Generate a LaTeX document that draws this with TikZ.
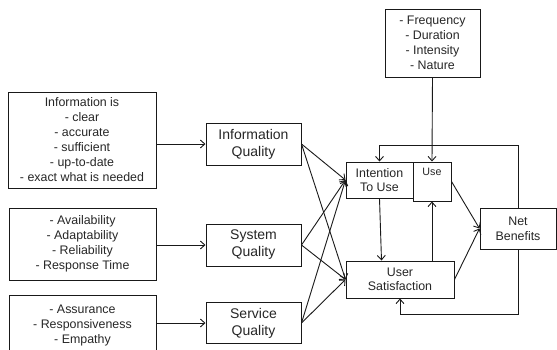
\documentclass[tikz,border=0pt]{standalone}
\usepackage{fontspec}
\setmainfont{Liberation Sans}
\usetikzlibrary{arrows.meta}
\begin{document}
\begin{tikzpicture}[x=1pt,y=-1pt,
  box/.style={draw=black!90,line width=1pt,inner sep=0pt,align=center,text=black!85},
  small/.style={font=\fontsize{12.4}{15}\selectfont},
  big/.style={font=\fontsize{14}{17}\selectfont},
  link/.style={draw=black!90,line width=0.9pt,-{Straight Barb[length=4.5pt,width=8pt]}}]
\useasboundingbox (0,0) rectangle (557,349);
\clip (0,0) rectangle (557,349);
% attribute boxes on the left
\node[box,small,minimum width=148pt,minimum height=96pt] (infob) at (82,140)
  {Information is\\- clear\\- accurate\\- sufficient\\- up-to-date\\- exact what is needed};
\node[box,small,minimum width=147pt,minimum height=72pt] (sysb) at (82.5,244)
  {- Availability\\- Adaptability\\- Reliability\\- Response Time};
\node[box,small,minimum width=147pt,minimum height=62pt] (servb) at (82.5,326)
  {- Assurance\\- Responsiveness\\- Empathy};
% quality dimensions
\node[box,big,minimum width=95pt,minimum height=42pt] (iq) at (253.5,144) {Information\\Quality};
\node[box,big,minimum width=95pt,minimum height=42pt] (sq) at (253.5,245) {System\\Quality};
\node[box,big,minimum width=95pt,minimum height=41pt] (svq) at (253.5,323) {Service\\Quality};
% use, satisfaction, benefits
\node[box,small,minimum width=67pt,minimum height=36pt,font=\fontsize{12.4}{14}\selectfont] (itu) at (379.5,180) {Intention\\To Use};
\node[box,minimum width=38pt,minimum height=39pt] (use) at (432,181.5) {};
\node[text=black!85,font=\fontsize{10.7}{12}\selectfont,inner sep=0pt] (uselbl) at (432,172) {Use};
\node[box,small,minimum width=108pt,minimum height=37pt,font=\fontsize{12.4}{14}\selectfont] (us) at (400,279.5) {User\\Satisfaction};
\node[box,small,minimum width=76pt,minimum height=41pt] (nb) at (518,228.5) {Net\\Benefits};
\node[box,small,minimum width=95pt,minimum height=68pt] (freq) at (432.5,43)
  {- Frequency\\- Duration\\- Intensity\\- Nature};
% attributes to dimensions
\draw[link] (iq.west -| infob.east) -- (iq.west);
\draw[link] (sq.west -| sysb.east) -- (sq.west);
\draw[link] (svq.west -| servb.east) -- (svq.west);
% dimensions to intention / satisfaction
\foreach \q in {iq,sq,svq}{
  \draw[link] (\q.east) -- (itu.west);
  \draw[link] (\q.east) -- (us.west);
}
% usage characteristics
\draw[link] (freq.south) -- (use.north);
% central relations
\draw[link] (itu.south) -- ([xshift=2pt]itu.south |- us.north);
\draw[link] (us.north -| use.south) -- (use.south);
\draw[link] (use.east) -- (nb.west);
\draw[link] (us.east) -- (nb.west);
% feedback loops
\draw[link] (nb.north) |- ([yshift=16pt]itu.north) -- (itu.north);
\draw[link] (nb.south) |- ([yshift=-16pt]us.south) -- (us.south);
\end{tikzpicture}
\end{document}
